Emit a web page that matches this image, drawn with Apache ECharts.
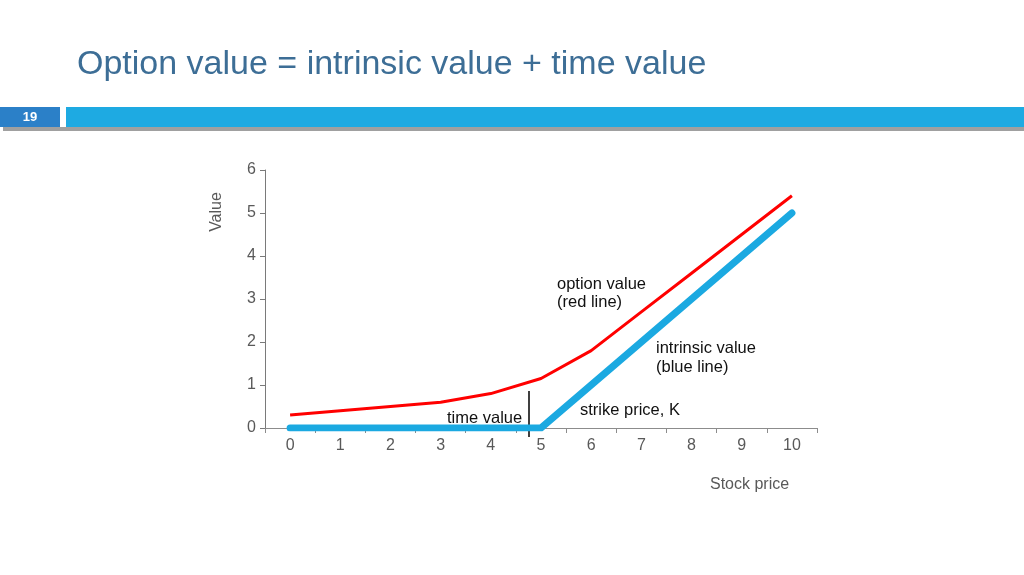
<!DOCTYPE html>
<html>
<head>
<meta charset="utf-8">
<title>Option value</title>
<script src="https://cdn.jsdelivr.net/npm/echarts@6/dist/echarts.min.js"></script>
<style>
  html, body { margin: 0; padding: 0; background: #fff; }
  #chart { width: 1024px; height: 575px; }
</style>
</head>
<body>
<div id="chart"></div>
<script>
// stock price categories and the two curves
var stockPrice = ['0', '1', '2', '3', '4', '5', '6', '7', '8', '9', '10'];
var optionValue = [0.3, 0.4, 0.5, 0.6, 0.8, 1.15, 1.8, 2.7, 3.6, 4.5, 5.4];
var intrinsicValue = [0, 0, 0, 0, 0, 0, 1, 2, 3, 4, 5];

var font = '"Liberation Sans", Arial, sans-serif';
var gray = '#595959';

var myChart = echarts.init(document.getElementById('chart'));

var option = {
    backgroundColor: '#fff',
    animation: false,
    grid: {
        left: 265,
        right: 207,
        top: 170,
        bottom: 147
    },
    xAxis: {
        type: 'category',
        data: stockPrice,
        boundaryGap: true,
        axisLine: { lineStyle: { color: '#8c8c8c', width: 1 } },
        axisTick: { show: true, length: 5, lineStyle: { color: '#8c8c8c' } },
        axisLabel: { color: gray, fontSize: 16, fontFamily: font, margin: 10 },
        splitLine: { show: false }
    },
    yAxis: {
        type: 'value',
        min: 0,
        max: 6,
        interval: 1,
        axisLine: { show: true, lineStyle: { color: '#7a7a7a', width: 1 } },
        axisTick: { show: true, length: 5, lineStyle: { color: '#7a7a7a' } },
        axisLabel: { color: gray, fontSize: 16, fontFamily: font, margin: 9 },
        splitLine: { show: false }
    },
    series: [{
        name: 'option value',
        type: 'line',
        data: optionValue,
        symbol: 'none',
        z: 2,
        lineStyle: { color: '#ff0000', width: 3 }
    }, {
        name: 'intrinsic value',
        type: 'line',
        data: intrinsicValue,
        symbol: 'none',
        z: 3,
        lineStyle: { color: '#1ba9e1', width: 7, cap: 'round', join: 'miter' }
    }],
    graphic: [
        // slide header
        {
            type: 'text', x: 77, y: 65,
            style: { text: 'Option value = intrinsic value + time value', fill: '#3d6e96', font: '34px ' + font, textVerticalAlign: 'middle' }
        },
        {
            type: 'rect', shape: { x: 3, y: 127, width: 1021, height: 4 },
            style: { fill: '#a0a0a0' }
        },
        {
            type: 'rect', shape: { x: 0, y: 107, width: 60, height: 20 },
            style: { fill: '#2b80c8' }
        },
        {
            type: 'rect', shape: { x: 66, y: 107, width: 958, height: 20 },
            style: { fill: '#1eaae2' }
        },
        {
            type: 'text', x: 30, y: 117,
            style: { text: '19', fill: '#fff', font: 'bold 13px ' + font, textAlign: 'center', textVerticalAlign: 'middle' }
        },
        // axis names
        {
            type: 'text', x: 217, y: 212, rotation: Math.PI / 2,
            style: { text: 'Value', fill: gray, font: '16px ' + font, textAlign: 'center', textVerticalAlign: 'middle' }
        },
        {
            type: 'text', x: 710, y: 485,
            style: { text: 'Stock price', fill: gray, font: '16px ' + font, textVerticalAlign: 'middle' }
        },
        // annotations
        {
            type: 'line', shape: { x1: 529, y1: 391, x2: 529, y2: 437 },
            style: { stroke: '#000', lineWidth: 1.5 }
        },
        {
            type: 'text', x: 447, y: 418,
            style: { text: 'time value', fill: '#111', font: '16.5px ' + font, textVerticalAlign: 'middle' }
        },
        {
            type: 'text', x: 557, y: 275,
            style: { text: 'option value\n(red line)', fill: '#111', font: '16.5px ' + font, lineHeight: 18 }
        },
        {
            type: 'text', x: 656, y: 339,
            style: { text: 'intrinsic value\n(blue line)', fill: '#111', font: '16.5px ' + font, lineHeight: 19 }
        },
        {
            type: 'text', x: 580, y: 410,
            style: { text: 'strike price, K', fill: '#111', font: '16.5px ' + font, textVerticalAlign: 'middle' }
        }
    ]
};

myChart.setOption(option);
</script>
</body>
</html>
